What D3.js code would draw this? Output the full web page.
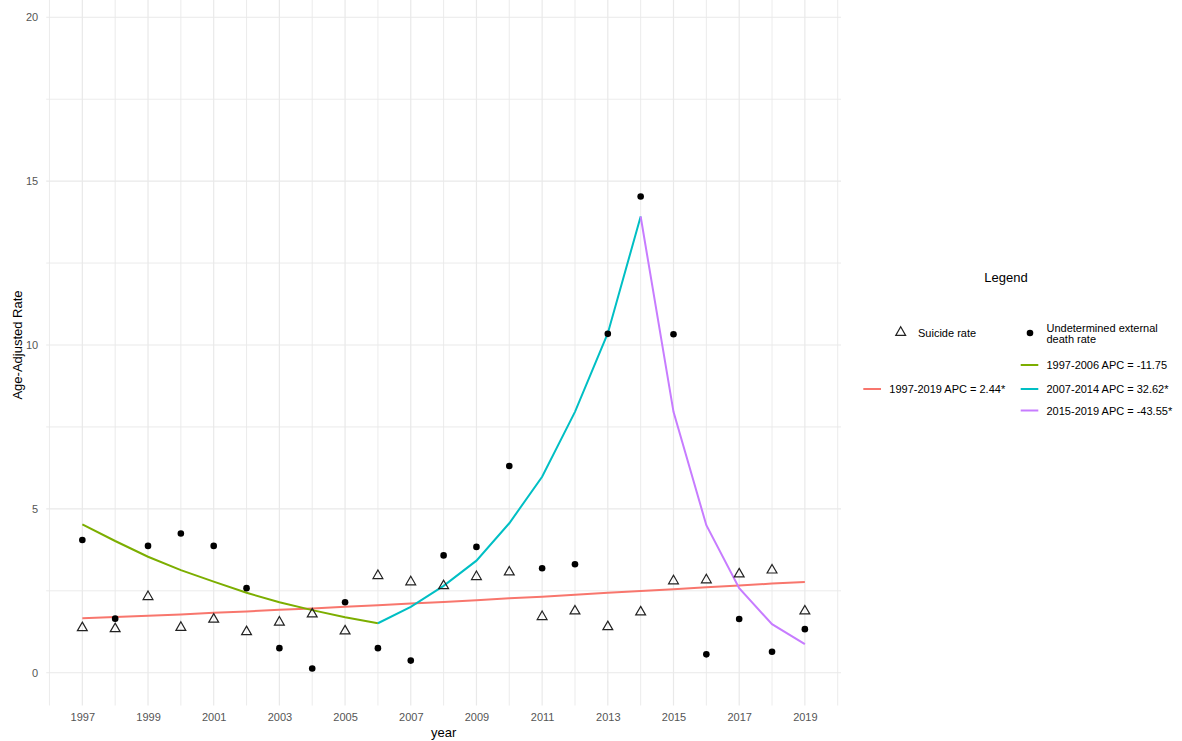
<!DOCTYPE html>
<html>
<head>
<meta charset="utf-8">
<script src="https://cdn.jsdelivr.net/npm/d3@7/dist/d3.min.js"></script>
<style>
  body { margin: 0; background: #fff; }
  text { font-family: "Liberation Sans", Arial, sans-serif; }
</style>
</head>
<body>
<svg id="chart" width="1182" height="741"></svg>
<script>
var years = [1997, 1998, 1999, 2000, 2001, 2002, 2003, 2004, 2005, 2006, 2007, 2008,
  2009, 2010, 2011, 2012, 2013, 2014, 2015, 2016, 2017, 2018, 2019];

var suicideRate = [1.37, 1.34, 2.32, 1.38, 1.63, 1.25, 1.54, 1.79, 1.27, 2.96, 2.77, 2.65,
  2.93, 3.07, 1.71, 1.88, 1.40, 1.85, 2.80, 2.83, 3.01, 3.13, 1.88];

var undeterminedRate = [4.05, 1.65, 3.87, 4.25, 3.87, 2.58, 0.75, 0.13, 2.15, 0.75, 0.37, 3.58,
  3.84, 6.31, 3.19, 3.31, 10.34, 14.53, 10.33, 0.56, 1.64, 0.64, 1.33];

// joinpoint fits, one value per year
var suicideTrend = [1.66, 1.70, 1.74, 1.78, 1.83, 1.87, 1.92, 1.96, 2.01, 2.06, 2.11, 2.16,
  2.21, 2.27, 2.32, 2.38, 2.44, 2.49, 2.55, 2.61, 2.66, 2.72, 2.77];

var trendYearsA = [1997, 1998, 1999, 2000, 2001, 2002, 2003, 2004, 2005, 2006];
var trendA = [4.53, 4.02, 3.54, 3.13, 2.78, 2.44, 2.15, 1.91, 1.69, 1.51];

var trendYearsB = [2006, 2007, 2008, 2009, 2010, 2011, 2012, 2013, 2014];
var trendB = [1.51, 2.01, 2.65, 3.42, 4.56, 5.98, 7.96, 10.36, 13.92];

var trendYearsC = [2014, 2015, 2016, 2017, 2018, 2019];
var trendC = [13.92, 7.96, 4.50, 2.58, 1.48, 0.87];

var xTickLabels = [1997, 1999, 2001, 2003, 2005, 2007, 2009, 2011, 2013, 2015, 2017, 2019];
var yTickLabels = [0, 5, 10, 15, 20];

var suicideLegend = ['1997-2019 APC = 2.44*'];
var undeterminedLegend = ['1997-2006 APC = -11.75', '2007-2014 APC = 32.62*', '2015-2019 APC = -43.55*'];

var colors = {
  suicide: '#F8766D',
  a: '#7CAE00',
  b: '#00BFC4',
  c: '#C77CFF'
};

var svg = d3.select('#chart');

var xScale = d3.scaleLinear().domain([1995.9, 2020.1]).range([46.2, 841]);
var yScale = d3.scaleLinear().domain([-1, 21]).range([705.5, -15.5]);

// grid
var grid = svg.append('g').attr('class', 'grid');
grid.selectAll('line.v')
  .data(d3.range(1996, 2021))
  .enter()
  .append('line')
  .attr('class', 'v')
  .attr('x1', function(d) { return xScale(d); })
  .attr('x2', function(d) { return xScale(d); })
  .attr('y1', yScale(21))
  .attr('y2', yScale(-1))
  .attr('stroke', '#e9e9e9')
  .attr('stroke-width', function(d) { return d % 2 ? 1.2 : 0.9; });
grid.selectAll('line.h')
  .data(d3.range(0, 21, 2.5))
  .enter()
  .append('line')
  .attr('class', 'h')
  .attr('x1', xScale.range()[0])
  .attr('x2', xScale.range()[1])
  .attr('y1', function(d) { return yScale(d); })
  .attr('y2', function(d) { return yScale(d); })
  .attr('stroke', '#e9e9e9')
  .attr('stroke-width', function(d) { return d % 5 === 0 ? 1.2 : 0.9; });

// axes
var xAxis = d3.axisBottom(xScale)
  .tickValues(xTickLabels)
  .tickFormat(d3.format('d'))
  .tickSize(0)
  .tickPadding(8);
var gx = svg.append('g')
  .attr('transform', 'translate(0,' + yScale(-1) + ')')
  .call(xAxis);
gx.select('.domain').remove();
gx.selectAll('text').attr('fill', '#555').style('font-size', '11px');

var yAxis = d3.axisLeft(yScale)
  .tickValues(yTickLabels)
  .tickSize(0)
  .tickPadding(8);
var gy = svg.append('g')
  .attr('transform', 'translate(' + xScale.range()[0] + ',0)')
  .call(yAxis);
gy.select('.domain').remove();
gy.selectAll('text').attr('fill', '#555').style('font-size', '11px');

svg.append('text')
  .attr('x', (xScale.range()[0] + xScale.range()[1]) / 2)
  .attr('y', 737)
  .attr('text-anchor', 'middle')
  .style('font-size', '13px')
  .text('year');

svg.append('text')
  .attr('transform', 'translate(22,' + (yScale(-1) + yScale(21)) / 2 + ') rotate(-90)')
  .attr('text-anchor', 'middle')
  .style('font-size', '13px')
  .text('Age-Adjusted Rate');

// trend lines
var line = d3.line()
  .x(function(d) { return xScale(d[0]); })
  .y(function(d) { return yScale(d[1]); });

function drawTrend(xs, ys, color) {
  svg.append('path')
    .datum(d3.zip(xs, ys))
    .attr('d', line)
    .attr('fill', 'none')
    .attr('stroke', color)
    .attr('stroke-width', 2);
}

drawTrend(years, suicideTrend, colors.suicide);
drawTrend(trendYearsA, trendA, colors.a);
drawTrend(trendYearsB, trendB, colors.b);
drawTrend(trendYearsC, trendC, colors.c);

// points
var triangle = d3.symbol().type(d3.symbolTriangle).size(42);

svg.append('g')
  .selectAll('path')
  .data(d3.zip(years, suicideRate))
  .enter()
  .append('path')
  .attr('d', triangle)
  .attr('transform', function(d) {
    return 'translate(' + xScale(d[0]) + ',' + yScale(d[1]) + ')';
  })
  .attr('fill', 'none')
  .attr('stroke', '#222')
  .attr('stroke-width', 1.2);

svg.append('g')
  .selectAll('circle')
  .data(d3.zip(years, undeterminedRate))
  .enter()
  .append('circle')
  .attr('cx', function(d) { return xScale(d[0]); })
  .attr('cy', function(d) { return yScale(d[1]); })
  .attr('r', 3.3)
  .attr('fill', '#000');

// legend
var legend = svg.append('g').attr('class', 'legend');
legend.append('text')
  .attr('x', 1006)
  .attr('y', 282)
  .attr('text-anchor', 'middle')
  .style('font-size', '13px')
  .text('Legend');

legend.append('path')
  .attr('d', triangle)
  .attr('transform', 'translate(900.7,332.5)')
  .attr('fill', 'none')
  .attr('stroke', '#222')
  .attr('stroke-width', 1.2);
legend.append('text')
  .attr('x', 918)
  .attr('y', 336.5)
  .style('font-size', '11px')
  .text('Suicide rate');

legend.append('circle')
  .attr('cx', 1030)
  .attr('cy', 333)
  .attr('r', 3.3)
  .attr('fill', '#000');
legend.append('text')
  .attr('x', 1046.5)
  .attr('y', 331.5)
  .style('font-size', '11px')
  .text('Undetermined external');
legend.append('text')
  .attr('x', 1046.5)
  .attr('y', 343)
  .style('font-size', '11px')
  .text('death rate');

legend.append('line')
  .attr('x1', 863.3).attr('x2', 881)
  .attr('y1', 389).attr('y2', 389)
  .attr('stroke', colors.suicide)
  .attr('stroke-width', 2);
legend.append('text')
  .attr('x', 889.3)
  .attr('y', 393)
  .style('font-size', '11px')
  .text(suicideLegend[0]);

var legendColors = [colors.a, colors.b, colors.c];
var legendRows = [365, 389, 410.5];
legend.selectAll('g.item')
  .data(undeterminedLegend)
  .enter()
  .append('g')
  .attr('class', 'item')
  .each(function(d, i) {
    var g = d3.select(this);
    g.append('line')
      .attr('x1', 1020.7).attr('x2', 1038.3)
      .attr('y1', legendRows[i]).attr('y2', legendRows[i])
      .attr('stroke', legendColors[i])
      .attr('stroke-width', 2);
    g.append('text')
      .attr('x', 1046.5)
      .attr('y', legendRows[i] + 4)
      .style('font-size', '11px')
      .text(d);
  });
</script>
</body>
</html>
